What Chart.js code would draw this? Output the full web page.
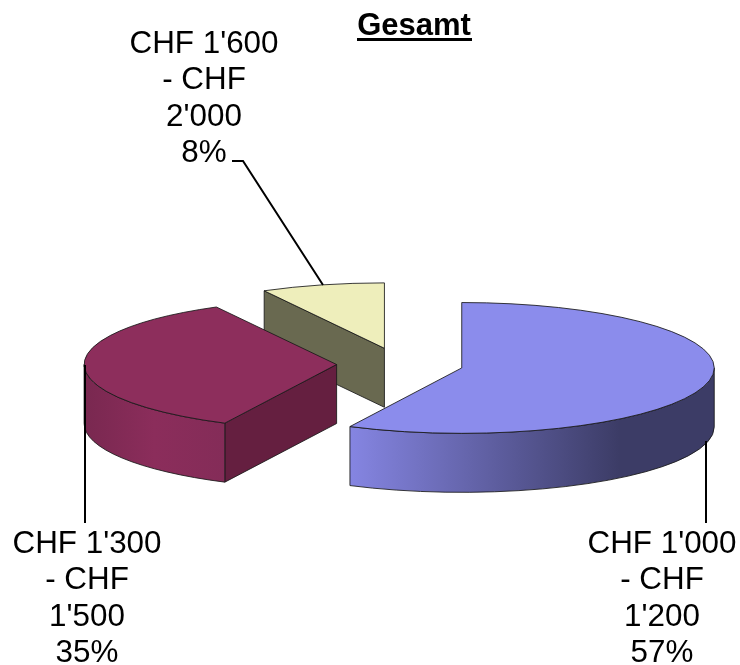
<!DOCTYPE html>
<html>
<head>
<meta charset="utf-8">
<title>Gesamt</title>
<script src="https://cdn.jsdelivr.net/npm/chart.js@4"></script>
<style>
  html, body { margin: 0; padding: 0; background: #fff; }
  canvas { display: block; }
</style>
</head>
<body>
<canvas id="pie" width="740" height="665"></canvas>
<script>
// data (labels show the rounded percentages)
var chartTitle = "Gesamt";
var categories = ["CHF 1'000 - CHF 1'200", "CHF 1'300 - CHF 1'500", "CHF 1'600 - CHF 2'000"];
var categoryLines = [["CHF 1'000", "- CHF", "1'200"], ["CHF 1'300", "- CHF", "1'500"], ["CHF 1'600", "- CHF", "2'000"]];
var shares = [57.3, 34.8, 7.9];

// colours
var topColors = ["#8b8cec", "#8d2e5c", "#eeeebb"];
var faceColors = ["#3c3c66", "#651f40", "#696950"];
var wallStops = [
  [[0, "#8585e2"], [0.74, "#3c3c66"], [1, "#3c3c66"]],
  [[0, "#792850"], [0.5, "#8b2d5b"], [1, "#842c58"]],
  [[0, "#696950"], [1, "#696950"]]
];

// fake 3d settings
var squash = 0.259;   // vertical flattening of the pie
var depth = 59;       // height of the pie walls
var explode = 63.4;   // how far slices are pulled out
var fontName = '"Liberation Sans", Arial, sans-serif';

// where the labels and leader lines go
var labelCenters = [[662, 553], [87, 553], [204, 53]];
var labelStep = 36.4;
var leaders = [
  [[706, 441], [706, 523]],
  [[85, 365], [85, 523]],
  [[232, 161], [243, 161], [323, 285]]
];

function screenY(chart, y) {
  var mid = (chart.chartArea.top + chart.chartArea.bottom) / 2;
  return mid + (y - mid) * squash;
}

// wall along the round edge, only the part facing the viewer
function drawWall(ctx, cx, cy, r, arc, i) {
  var a0 = Math.max(arc.startAngle, 0);
  var a1 = Math.min(arc.endAngle, Math.PI);
  if (a0 >= a1) return;

  var x0 = cx + r * Math.cos(a1);
  var x1 = cx + r * Math.cos(a0);
  var grad = ctx.createLinearGradient(x0, 0, x1, 0);
  wallStops[i].forEach(function (s) { grad.addColorStop(s[0], s[1]); });

  ctx.beginPath();
  ctx.ellipse(cx, cy, r, r * squash, 0, a0, a1);
  ctx.ellipse(cx, cy + depth, r, r * squash, 0, a1, a0, true);
  ctx.closePath();
  ctx.fillStyle = grad;
  ctx.fill();
  ctx.stroke();
}

// flat cut side of a slice, going down from one of its straight edges
function drawFace(ctx, cx, cy, r, angle, i) {
  var ex = cx + r * Math.cos(angle);
  var ey = cy + r * squash * Math.sin(angle);
  ctx.beginPath();
  ctx.moveTo(cx, cy);
  ctx.lineTo(ex, ey);
  ctx.lineTo(ex, ey + depth);
  ctx.lineTo(cx, cy + depth);
  ctx.closePath();
  ctx.fillStyle = faceColors[i];
  ctx.fill();
  ctx.stroke();
}

var pie3d = {
  id: "pie3d",
  // pull the slices out here, the offset option of the arcs also grows them
  afterDatasetUpdate: function (chart) {
    chart.getDatasetMeta(0).data.forEach(function (arc) {
      var half = (arc.startAngle + arc.endAngle) / 2;
      arc.x += Math.cos(half) * explode;
      arc.y += Math.sin(half) * explode;
    });
  },
  beforeDatasetsDraw: function (chart) {
    var ctx = chart.ctx;
    var arcs = chart.getDatasetMeta(0).data;
    var mid = (chart.chartArea.top + chart.chartArea.bottom) / 2;

    ctx.save();
    ctx.strokeStyle = "rgba(25,25,25,0.85)";
    ctx.lineWidth = 1;
    // back to front
    for (var i = arcs.length - 1; i >= 0; i--) {
      var arc = arcs[i];
      var cx = arc.x, cy = screenY(chart, arc.y), r = arc.outerRadius;
      if (Math.cos(arc.startAngle) < -0.001) drawFace(ctx, cx, cy, r, arc.startAngle, i);
      if (Math.cos(arc.endAngle) > 0.001) drawFace(ctx, cx, cy, r, arc.endAngle, i);
      drawWall(ctx, cx, cy, r, arc, i);
    }
    ctx.restore();

    // the arcs themselves are drawn squashed
    ctx.save();
    ctx.translate(0, mid);
    ctx.scale(1, squash);
    ctx.translate(0, -mid);
  },
  afterDatasetsDraw: function (chart) {
    var ctx = chart.ctx;
    ctx.restore();

    // outlines of the top faces, here so the line width stays even
    ctx.save();
    ctx.strokeStyle = "rgba(25,25,25,0.85)";
    ctx.lineWidth = 1;
    chart.getDatasetMeta(0).data.forEach(function (arc) {
      var cy = screenY(chart, arc.y);
      ctx.beginPath();
      ctx.moveTo(arc.x, cy);
      ctx.ellipse(arc.x, cy, arc.outerRadius, arc.outerRadius * squash, 0, arc.startAngle, arc.endAngle);
      ctx.closePath();
      ctx.stroke();
    });
    ctx.restore();
  },
  afterDraw: function (chart) {
    var ctx = chart.ctx;
    ctx.save();
    ctx.fillStyle = "#000";
    ctx.strokeStyle = "#000";
    ctx.textBaseline = "alphabetic";
    ctx.textAlign = "center";

    // title with underline
    ctx.font = "bold 31px " + fontName;
    ctx.fillText(chartTitle, 414, 35);
    ctx.fillRect(357, 38, 115, 3);

    // leader lines
    ctx.lineWidth = 2;
    leaders.forEach(function (pts) {
      ctx.beginPath();
      pts.forEach(function (p, k) {
        if (k == 0) ctx.moveTo(p[0], p[1]);
        else ctx.lineTo(p[0], p[1]);
      });
      ctx.stroke();
    });

    // category labels
    ctx.font = "31.4px " + fontName;
    categoryLines.forEach(function (lines, i) {
      var all = lines.concat([Math.round(shares[i]) + "%"]);
      all.forEach(function (txt, k) {
        ctx.fillText(txt, labelCenters[i][0], labelCenters[i][1] + k * labelStep);
      });
    });
    ctx.restore();
  }
};

var chart = new Chart(document.getElementById("pie"), {
  type: "pie",
  plugins: [pie3d],
  data: {
    labels: categories,
    datasets: [{
      data: shares,
      backgroundColor: topColors,
      borderWidth: 0,
      radius: 252.5,
      clip: false
    }]
  },
  options: {
    responsive: false,
    animation: false,
    events: [],
    layout: { padding: { left: 60, top: 63.4 } },
    plugins: {
      legend: { display: false },
      tooltip: { enabled: false }
    }
  }
});
</script>
</body>
</html>
